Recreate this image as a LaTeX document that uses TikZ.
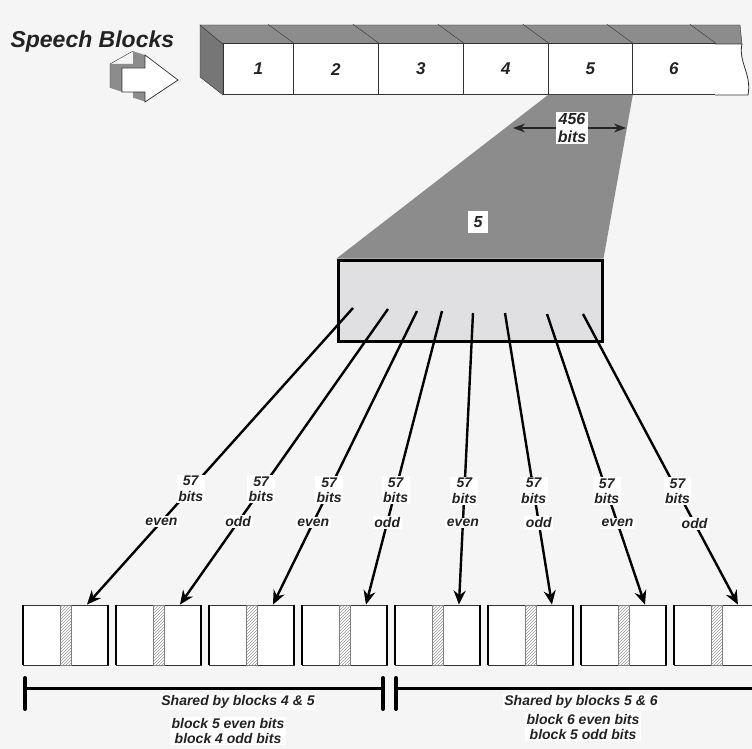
\documentclass[tikz,border=0pt]{standalone}
\usepackage{fontspec}
\setmainfont{Liberation Sans}
\usetikzlibrary{arrows.meta,calc,patterns}
\definecolor{bgcol}{RGB}{245,245,245}
\definecolor{facegray}{RGB}{140,140,140}
\definecolor{sidegray}{RGB}{118,118,118}
\definecolor{framefill}{RGB}{224,224,226}
\definecolor{txtgray}{RGB}{35,35,35}
\tikzset{
  lab/.style={font=\bfseries\itshape\fontsize{14}{15.5}\selectfont, text=txtgray},
  cell/.style={draw=black!80, fill=white, line width=0.8pt, inner sep=0pt, minimum height=51pt,
    font=\bfseries\itshape\fontsize{17}{19}\selectfont, text=txtgray},
  slot/.style={draw=black!80, fill=white, line width=0.8pt, minimum width=85pt, minimum height=60pt, inner sep=0pt},
  tag/.style={lab, fill=white, inner sep=1.5pt, align=center},
  bigtag/.style={tag, font=\bfseries\itshape\fontsize{16}{18}\selectfont},
  feed/.style={line width=2.4pt, -{Stealth[length=14pt,width=12pt]}},
  bar/.style={line width=3pt},
  tick/.style={line width=4pt, line cap=round},
}
\begin{document}
\begin{tikzpicture}[x=1pt,y=-1pt]
  \useasboundingbox (0,0) rectangle (752,749);
  \fill[bgcol] (0,0) rectangle (752,749);

  \node[anchor=west, font=\bfseries\itshape\fontsize{23}{26}\selectfont, text=txtgray] (title) at (7,42) {Speech Blocks};
  \foreach \k in {12,11,...,1}
    \fill[facegray, shift={(-\k,-\k/3)}] (122,68) -- (145,68) -- (145,55) -- (178,80) -- (145,102) -- (145,92) -- (122,92) -- cycle;
  \draw[black!80, shift={(-12,-4)}] (145,55) -- (122,68) (122,68) -- (122,92);
  \filldraw[fill=white, draw=black!80, line width=0.7pt] (122,68) -- (145,68) -- (145,55) -- (178,80) -- (145,102) -- (145,92) -- (122,92) -- cycle;

  % the block strip
  \filldraw[fill=sidegray, draw=black!80] (200,25) -- (223,44) -- (223,95) -- (200,77) -- cycle;
  \filldraw[fill=facegray, draw=black!80] (200,25) -- (740,25) -- (742,44) -- (223,44) -- cycle;
  \foreach \i/\xa/\xb in {1/223/293,2/293/378,3/378/463,4/463/548,5/548/632,6/632/715}
    \node[cell, anchor=south west, minimum width={(\xb-\xa)*1pt}] (b\i) at (\xa,95) {\i};
  \foreach \i in {1,...,6}
    \draw[black!80] (b\i.north east) -- ++(-26,-19);
  \filldraw[fill=white, draw=black!80, line width=0.8pt] (715,44) -- (742,44) .. controls (738,62) and (752,74) .. (748,95) -- (715,95);

  \node[draw=black, line width=3pt, fill=framefill, minimum width=264pt, minimum height=81pt] (frame) at (470,300.5) {};
  \fill[facegray] (b5.south west) -- (b5.south east) -- (frame.north east) -- (frame.north west) -- cycle;

  \coordinate (wl) at (513,128);
  \coordinate (wr) at (626,128);
  \draw[line width=1.3pt, black!85, {Stealth[length=12pt,width=9pt]}-{Stealth[length=12pt,width=9pt]}] (wl) -- (wr);
  \node[bigtag] (width) at (572,128) {456\\bits};
  \node[bigtag, minimum width=20pt, minimum height=22pt] (blk) at (478,222) {5};

  \foreach \i/\x/\y in {1/353/308,2/388/309,3/417/311,4/442/311,5/473/313,6/505/313,7/547/314,8/583/314}
    \coordinate (t\i) at (\x,\y);

  \foreach \i in {1,...,8} {
    \node[slot] (s\i) at ({65.5+93*(\i-1)},635) {};
    \draw[gray, pattern=north east lines, pattern color=gray!80] ($(s\i.center)+(-5,-30)$) rectangle ($(s\i.center)+(6,30)$);
    \draw[line width=2pt] (s\i.north west) -- (s\i.south west) (s\i.north east) -- (s\i.south east);
    \coordinate (e\i) at ($(s\i.north)!.5!(s\i.north east)$);
  }

  \foreach \i/\p in {1/even,2/odd,3/even,4/odd,5/even,6/odd,7/even,8/odd}
    \draw[feed] (t\i) -- node[tag, pos=.61] (n\i) {57\\bits} node[tag, pos=.72] (p\i) {\p} (e\i);

  \coordinate (l0) at (25,688);
  \coordinate (l1) at (383,688);
  \coordinate (r0) at (396,688);
  \coordinate (r1) at (760,688);
  \draw[bar] (l0) -- (l1);
  \draw[bar] (r0) -- (r1);
  \foreach \c in {l0,l1,r0}
    \draw[tick] ($(\c)+(0,-10)$) -- ($(\c)+(0,21)$);

  \node[tag] (sh45) at (238,702) {Shared by blocks 4 \& 5};
  \node[tag] (bk45) at (228,731) {block 5 even bits\\block 4 odd bits};
  \node[tag] (sh56) at (581,702) {Shared by blocks 5 \& 6};
  \node[tag] (bk56) at (583,727) {block 6 even bits\\block 5 odd bits};
\end{tikzpicture}
\end{document}
